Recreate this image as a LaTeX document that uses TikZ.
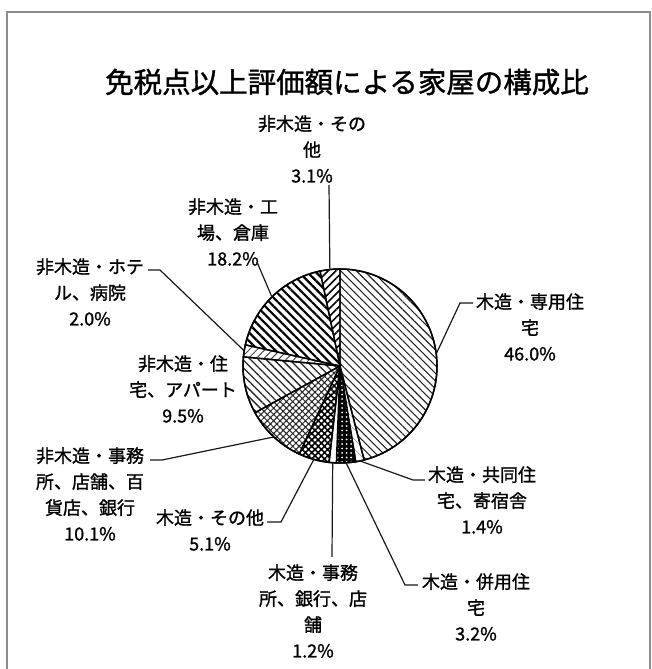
\documentclass[tikz,border=0pt]{standalone}
\usepackage{fontspec}
\setmainfont{Noto Sans CJK JP}[FakeBold=1.2]
\usetikzlibrary{patterns.meta}
\tikzset{
  lbl/.style={align=center, inner sep=0pt, font=\fontsize{18}{26}\selectfont},
  leader/.style={draw=black!90, line width=1.2pt},
  sliceline/.style={draw=black, line width=1.4pt},
}
\newcommand\pieslicex[3]{%
  \path[sliceline,#3] (C) -- ++(#1:97) arc[start angle=#1, end angle=#2, radius=97] -- cycle;}
\begin{document}
\begin{tikzpicture}[x=1pt,y=-1pt]
\useasboundingbox (0,0) rectangle (652,669);
\fill[white] (0,0) rectangle (652,669);
% frame
\draw[black!45, line width=1.6pt] (7,680) -- (7,12) -- (650,12) -- (650,680);
% title
\node[inner sep=0pt, font=\fontsize{28.5}{30}\selectfont] (title) at (347,82) {免税点以上評価額による家屋の構成比};
% pie
\coordinate (C) at (340,366);
% 46.0
\pieslicex{-90}{75.6}{fill=white, pattern={Lines[angle=-45,distance=5.5pt,line width=1.1pt]}, pattern color=black!85}
% 1.4
\pieslicex{75.6}{80.64}{fill=white, pattern={Lines[angle=-45,distance=7pt,line width=0.5pt]}, pattern color=black!40}
% 3.2
\fill[black] (C) -- ++(80.64:97) arc[start angle=80.64, end angle=92.16, radius=97] -- cycle;
\pieslicex{80.64}{92.16}{pattern={Dots[distance=4.5pt,radius=1pt]}, pattern color=white}
% 1.2
\pieslicex{92.16}{96.48}{fill=white}
% 5.1
\pieslicex{96.48}{114.84}{pattern={Hatch[angle=45,distance=4.5pt,line width=1.6pt]}, pattern color=black}
% 10.1
\pieslicex{114.84}{151.2}{pattern={Hatch[angle=45,distance=4.5pt,line width=1pt]}, pattern color=black!85}
% 9.5
\pieslicex{151.2}{185.4}{pattern={Lines[angle=-45,distance=5.5pt,line width=1.3pt]}, pattern color=black!85}
% 2.0
\pieslicex{185.4}{192.6}{pattern={Lines[angle=45,distance=5.5pt,line width=1pt]}, pattern color=black!70}
% 18.2
\pieslicex{192.6}{258.12}{pattern={Lines[angle=-45,distance=6pt,line width=2.2pt]}, pattern color=black}
% 3.1
\pieslicex{258.12}{270}{pattern={Lines[angle=45,distance=5.5pt,line width=1.6pt]}, pattern color=black}
\draw[line width=1.5pt] (C) circle[radius=97];
% pie points for leaders
\path (C) ++(264:97) coordinate (p31);
\path (C) ++(225.4:97) coordinate (p182);
\path (C) ++(189:97) coordinate (p20);
\path (C) ++(133:97) coordinate (p101);
\path (C) ++(105.66:97) coordinate (p51);
\path (C) ++(94.32:97) coordinate (p12);
\path (C) ++(86.4:97) coordinate (p32);
\path (C) ++(78.12:97) coordinate (p14);
\path (C) ++(-7.2:97) coordinate (p46);
% labels
\node[lbl] (n31) at (312,149) {非木造・その\\他\\3.1\%};
\node[lbl] (n182) at (233,232) {非木造・工\\場、倉庫\\18.2\%};
\node[lbl] (n20) at (90,292) {非木造・ホテ\\ル、病院\\2.0\%};
\node[lbl] (n95) at (183,389) {非木造・住\\宅、アパート\\9.5\%};
\node[lbl] (n101) at (90,494) {非木造・事務\\所、店舗、百\\貨店、銀行\\10.1\%};
\node[lbl] (n51) at (210,530) {木造・その他\\5.1\%};
\node[lbl] (n12) at (313,611) {木造・事務\\所、銀行、店\\舗\\1.2\%};
\node[lbl] (n32) at (476,607) {木造・併用住\\宅\\3.2\%};
\node[lbl] (n14) at (482,500) {木造・共同住\\宅、寄宿舎\\1.4\%};
\node[lbl] (n46) at (530,327) {木造・専用住\\宅\\46.0\%};
% leader anchors
\coordinate (a31) at (329,185);
\coordinate (a182) at (257,262);
\coordinate (a20) at (148,270);
\coordinate (a101) at (150,460);
\coordinate (a51) at (267,522);
\coordinate (a12) at (332,557);
\coordinate (a32) at (418,585);
\coordinate (a14) at (425,480);
\coordinate (a46) at (473,303);
% leaders
\draw[leader] (a31) -- (p31);
\draw[leader] (a182) -- (p182);
\draw[leader] (a20) -- ++(12,0) -- (p20);
\draw[leader] (a101) -- ++(12,0) -- (p101);
\draw[leader] (a51) -- ++(14,0) -- (p51);
\draw[leader] (a12) -- (p12);
\draw[leader] (a32) -- ++(-13,0) -- (p32);
\draw[leader] (a14) -- ++(-12,0) -- (p14);
\draw[leader] (a46) -- ++(-13,0) -- (p46);
\end{tikzpicture}
\end{document}
